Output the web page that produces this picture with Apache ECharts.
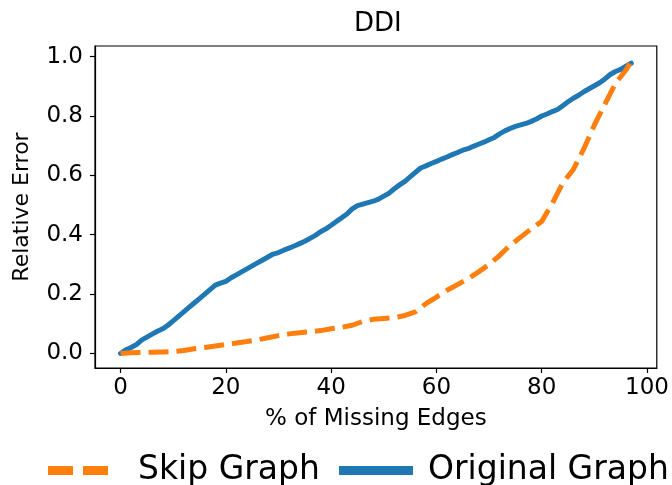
<!DOCTYPE html>
<html>
<head>
<meta charset="utf-8">
<script src="https://cdn.jsdelivr.net/npm/echarts@6/dist/echarts.min.js"></script>
<style>html,body{margin:0;padding:0;background:#fff;}#c{width:672px;height:485px;}</style>
</head>
<body>
<div id="c"></div>
<script>
const title = 'DDI';
const xTicks = [0, 20, 40, 60, 80, 100];
const yTicks = [0, 0.2, 0.4, 0.6, 0.8, 1.0];

const origX = [0,1,2,3,4,5,6,7,8,9,10,11,12,13,14,15,16,17,18,19,20,21,22,23,24,25,26,27,28,29,30,31,32,33,34,35,36,37,38,39,40,41,42,43,44,45,46,47,48,49,50,51,52,53,54,55,56,57,58,59,60,61,62,63,64,65,66,67,68,69,70,71,72,73,74,75,76,77,78,79,80,81,82,83,84,85,86,87,88,89,90,91,92,93,94,95,96,97];
const origY = [0.0,0.012,0.02,0.03,0.045,0.055,0.065,0.075,0.083,0.095,0.11,0.125,0.14,0.155,0.17,0.185,0.2,0.215,0.23,0.237,0.243,0.255,0.265,0.275,0.285,0.295,0.305,0.315,0.325,0.335,0.34,0.348,0.355,0.362,0.37,0.378,0.388,0.398,0.41,0.42,0.432,0.445,0.457,0.47,0.487,0.498,0.503,0.508,0.513,0.52,0.53,0.54,0.555,0.568,0.58,0.595,0.61,0.625,0.632,0.64,0.647,0.655,0.662,0.67,0.677,0.685,0.69,0.698,0.705,0.712,0.72,0.728,0.74,0.75,0.758,0.765,0.77,0.775,0.782,0.79,0.8,0.807,0.815,0.822,0.835,0.848,0.86,0.87,0.882,0.892,0.902,0.912,0.925,0.94,0.95,0.957,0.968,0.978];

const skipX = [0,2,4,6,8,10,12,14,16,18,20,22,24,26,28,30,32,34,36,38,40,42,44,46,48,50,52,54,56,58,60,62,64,66,68,70,72,74,76,78,80,82,84,86,88,90,92,94,96,97];
const skipY = [0,0.002,0.003,0.004,0.005,0.006,0.01,0.016,0.02,0.025,0.03,0.035,0.04,0.046,0.053,0.06,0.066,0.07,0.073,0.077,0.083,0.088,0.095,0.108,0.115,0.118,0.121,0.128,0.14,0.168,0.19,0.213,0.232,0.252,0.275,0.3,0.33,0.365,0.392,0.42,0.445,0.505,0.575,0.62,0.69,0.77,0.84,0.91,0.955,0.985];

const names = ['Skip Graph', 'Original Graph'];
const FONT = 'DejaVu Sans';

const chart = echarts.init(document.getElementById('c'), null, {renderer: 'canvas'});
chart.setOption({
  animation: false,
  backgroundColor: '#fff',
  title: {
    text: title, left: 349, top: 6,
    textStyle: {fontFamily: FONT, fontSize: 26, fontWeight: 'normal', color: '#000'}
  },
  grid: {left: 95, right: 15, top: 46, bottom: 117, show: true, borderColor: '#000', borderWidth: 1.2, backgroundColor: 'transparent'},
  legend: [{
    data: [{name: names[0], icon: 'path://M0,0 H25 V9 H0 Z M35,0 H60 V9 H35 Z'}],
    left: 43, top: 449,
    itemWidth: 60, itemHeight: 9,
    textStyle: {fontFamily: FONT, fontSize: 33, color: '#000', padding: [0, 0, 0, 25]},
    selectedMode: false
  }, {
    data: [{name: names[1], icon: 'rect'}],
    left: 334, top: 449,
    itemWidth: 74, itemHeight: 9,
    textStyle: {fontFamily: FONT, fontSize: 33, color: '#000', padding: [0, 0, 0, 10]},
    selectedMode: false
  }],
  xAxis: {
    type: 'value', min: -4.85, max: 101.85,
    splitLine: {show: false},
    axisLine: {show: true, onZero: false, lineStyle: {color: '#000', width: 1.2}},
    axisTick: {show: true, length: 5, customValues: xTicks, lineStyle: {color: '#000', width: 1.2}},
    axisLabel: {customValues: xTicks, fontFamily: FONT, fontSize: 23, color: '#000', margin: 9},
    name: '% of Missing Edges', nameLocation: 'middle', nameGap: 40,
    nameTextStyle: {fontFamily: FONT, fontSize: 23, color: '#000'}
  },
  yAxis: {
    type: 'value', min: -0.049, max: 1.036,
    splitLine: {show: false},
    axisLine: {show: true, onZero: false, lineStyle: {color: '#000', width: 1.2}},
    axisTick: {show: true, length: 5, customValues: yTicks, lineStyle: {color: '#000', width: 1.2}},
    axisLabel: {customValues: yTicks, fontFamily: FONT, fontSize: 23, color: '#000', margin: 12,
      formatter: v => v.toFixed(1)},
    name: 'Relative Error', nameLocation: 'middle', nameGap: 62, nameRotate: 90,
    nameTextStyle: {fontFamily: FONT, fontSize: 22, color: '#000'}
  },
  series: [{
    name: names[0], type: 'line', showSymbol: false, symbol: 'none',
    data: skipX.map((x, i) => [x, skipY[i]]),
    lineStyle: {color: '#ff7f0e', width: 5, type: [20, 8], cap: 'butt', join: 'round'},
    itemStyle: {color: '#ff7f0e'},
    z: 3
  }, {
    name: names[1], type: 'line', showSymbol: false, symbol: 'none',
    data: origX.map((x, i) => [x, origY[i]]),
    lineStyle: {color: '#1f77b4', width: 5, join: 'round', cap: 'round'},
    itemStyle: {color: '#1f77b4'},
    z: 2
  }]
});
</script>
</body>
</html>
